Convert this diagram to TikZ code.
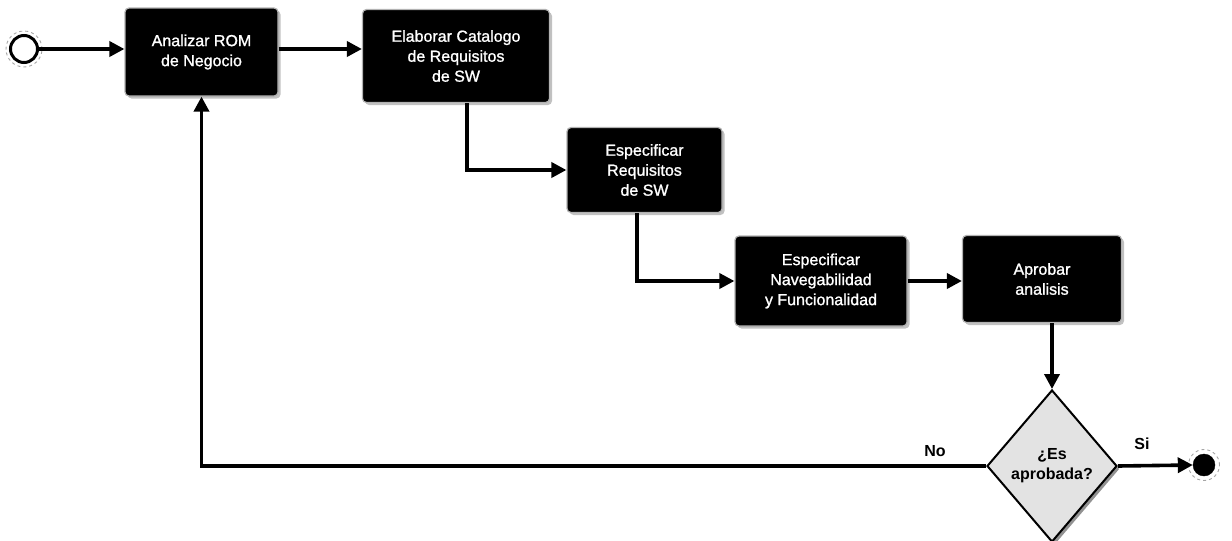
\documentclass[tikz,border=0pt]{standalone}
\usepackage{fontspec}
\setmainfont{Liberation Sans}
\newfontfamily\boxfont{Liberation Sans}[FakeBold=1.2]
\usetikzlibrary{arrows.meta,calc,shapes.geometric,shadows}
\begin{document}
\begin{tikzpicture}[x=1pt,y=-1pt,
  task/.style={rectangle,rounded corners=4pt,fill=black,draw=gray!60,line width=1.2pt,
    text=white,align=center,inner sep=0pt,font=\boxfont\fontsize{16}{20}\selectfont,
    drop shadow={shadow xshift=2.5pt,shadow yshift=-2.5pt,fill=gray!60,opacity=0.8}},
  flow/.style={line width=3.6pt,-{Triangle[length=15pt,width=15pt]}},
  lbl/.style={font=\bfseries\fontsize{16}{18}\selectfont}]
\useasboundingbox (0,0) rectangle (1232,541);
% start and end events
\node[circle,draw=gray!70,dashed,line width=0.9pt,minimum size=36pt,inner sep=0pt] at (24,49) {};
\node (start) [circle,draw=black,fill=white,line width=3pt,minimum size=27pt,inner sep=0pt] at (24,49) {};
\node[circle,draw=gray!70,dashed,line width=0.9pt,minimum size=31pt,inner sep=0pt] at (1204,465) {};
\node (end) [circle,fill=black,draw=black,minimum size=22pt,inner sep=0pt] at (1204,465) {};
% tasks
\node (b1) [task,minimum width=153pt,minimum height=88pt] at (201.5,52) {Analizar ROM\\de Negocio};
\node (b2) [task,minimum width=187pt,minimum height=93pt] at (456,56) {Elaborar Catalogo\\de Requisitos\\de SW};
\node (b3) [task,minimum width=155pt,minimum height=85pt] at (644.5,170) {Especificar\\Requisitos\\de SW};
\node (b4) [task,minimum width=172pt,minimum height=90pt] at (821,281) {Especificar\\Navegabilidad\\y Funcionalidad};
\node (b5) [task,minimum width=159pt,minimum height=87pt] at (1042,279) {Aprobar\\analisis};
% gateway
\node (dia) [diamond,fill=gray!22,draw=black,line width=2pt,minimum width=130pt,minimum height=152pt,
  inner sep=0pt,align=center,font=\bfseries\fontsize{16}{20}\selectfont,
  drop shadow={shadow xshift=2.5pt,shadow yshift=-3pt,fill=black!85}] at (1052,466) {¿Es\\aprobada?};
% connectors
\draw[flow] (start) -- (b1.west |- start);
\draw[flow] (b1.east |- start) -- (b2.west |- start);
\draw[flow] ($(b2.south)+(11,0)$) |- (b3.west);
\draw[flow] ($(b3.south)+(-7.5,0)$) |- (b4.west);
\draw[flow] (b4.east) -- (b5.west |- b4.east);
\draw[flow] (dia.north |- b5.south) -- (dia.north);
\draw[flow] (dia.east) -- (end.west);
\draw[flow] (dia.west) -| (b1.south);
% labels
\node[lbl] (no) at (935,451) {No};
\node[lbl] (si) at (1142,444) {Si};
\end{tikzpicture}
\end{document}
